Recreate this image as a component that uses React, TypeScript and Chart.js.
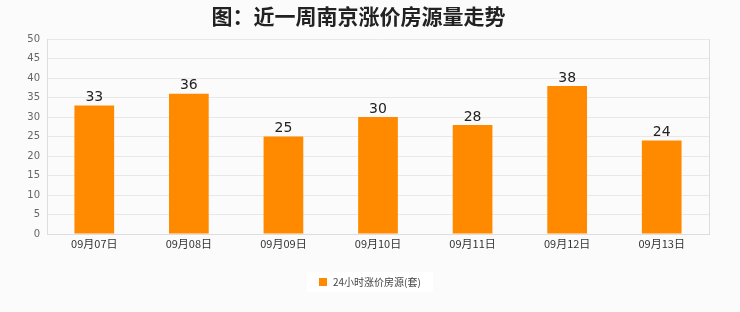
import React, { useEffect, useRef } from "react";
import { Chart, registerables } from "chart.js";

Chart.register(...registerables);

const titleText = "图：近一周南京涨价房源量走势";
const categories = ["09月07日", "09月08日", "09月09日", "09月10日", "09月11日", "09月12日", "09月13日"];
const seriesName = "24小时涨价房源(套)";
const values = [33, 36, 25, 30, 28, 38, 24];
const yMax = 50;
const yStep = 5;
const barColor = "#ff8a00";

const bgPlugin = {
  id: "bg",
  beforeDraw(chart: any) {
    const { ctx, width, height } = chart;
    ctx.save();
    ctx.fillStyle = "#fbfbfb";
    ctx.fillRect(0, 0, width, height);
    ctx.restore();
  },
};

const labelPlugin = {
  id: "barLabels",
  afterDatasetsDraw(chart: any) {
    const { ctx } = chart;
    const meta = chart.getDatasetMeta(0);
    ctx.save();
    ctx.font = "14px 'DejaVu Sans', sans-serif";
    ctx.fillStyle = "#222";
    ctx.textAlign = "center";
    ctx.textBaseline = "bottom";
    meta.data.forEach((el: any, i: number) => {
      ctx.fillText(String(values[i]), el.x, el.y - 1);
    });
    ctx.restore();
  },
};

const borderLegendPlugin = {
  id: "borderLegend",
  afterDraw(chart: any) {
    const { ctx, chartArea, width } = chart;
    ctx.save();
    ctx.strokeStyle = "#dddddd";
    ctx.lineWidth = 1;
    ctx.beginPath();
    ctx.moveTo(Math.round(chartArea.right) + 0.5, chartArea.top);
    ctx.lineTo(Math.round(chartArea.right) + 0.5, chartArea.bottom);
    ctx.stroke();

    // legend
    ctx.font = "10px 'Noto Sans CJK SC', sans-serif";
    const tw = ctx.measureText(seriesName).width;
    const box = 8;
    const gap = 6;
    const total = box + gap + tw;
    const cy = 282;
    const x0 = Math.round((width - total) / 2);
    ctx.fillStyle = "#ffffff";
    ctx.fillRect(x0 - 12, cy - 10, total + 24, 20);
    ctx.fillStyle = barColor;
    ctx.fillRect(x0, cy - box / 2, box, box);
    ctx.fillStyle = "#444";
    ctx.textAlign = "left";
    ctx.textBaseline = "middle";
    ctx.fillText(seriesName, x0 + box + gap, cy);
    ctx.restore();
  },
};

export default function App() {
  const ref = useRef<HTMLCanvasElement>(null);
  useEffect(() => {
    const chart = new Chart(ref.current!, {
      type: "bar",
      data: {
        labels: categories,
        datasets: [
          {
            label: seriesName,
            data: values,
            backgroundColor: barColor,
            borderWidth: 0,
            categoryPercentage: 1,
            barPercentage: 0.42,
          },
        ],
      },
      options: {
        responsive: false,
        animation: false,
        devicePixelRatio: 1,
        layout: { padding: { left: 8, right: 31, top: 0, bottom: 58 } },
        plugins: {
          title: {
            display: true,
            text: titleText,
            color: "#222",
            font: { size: 21, weight: "bold", family: "'Noto Sans CJK SC', sans-serif" },
            padding: { top: 3, bottom: 11 },
          },
          legend: { display: false },
          tooltip: { enabled: false },
        },
        scales: {
          x: {
            grid: { display: false, drawTicks: false },
            border: { color: "#dddddd" },
            afterFit(scale: any) {
              scale.height = 20;
            },
            ticks: {
              color: "#333",
              padding: 3,
              font: { size: 11, family: "'Noto Sans CJK SC', sans-serif" },
            },
          },
          y: {
            min: 0,
            max: yMax,
            grid: { color: "#e8e8e8", drawTicks: false },
            border: { color: "#dddddd" },
            afterFit(scale: any) {
              scale.width = 39;
            },
            ticks: {
              stepSize: yStep,
              color: "#666",
              padding: 7,
              font: { size: 10, family: "'DejaVu Sans', sans-serif" },
            },
          },
        },
      },
      plugins: [bgPlugin, labelPlugin, borderLegendPlugin],
    } as any);
    return () => chart.destroy();
  }, []);
  return (
    <div style={{ position: "fixed", left: 0, top: 0, width: 740, height: 312 }}>
      <canvas ref={ref} width={740} height={312} />
    </div>
  );
}
